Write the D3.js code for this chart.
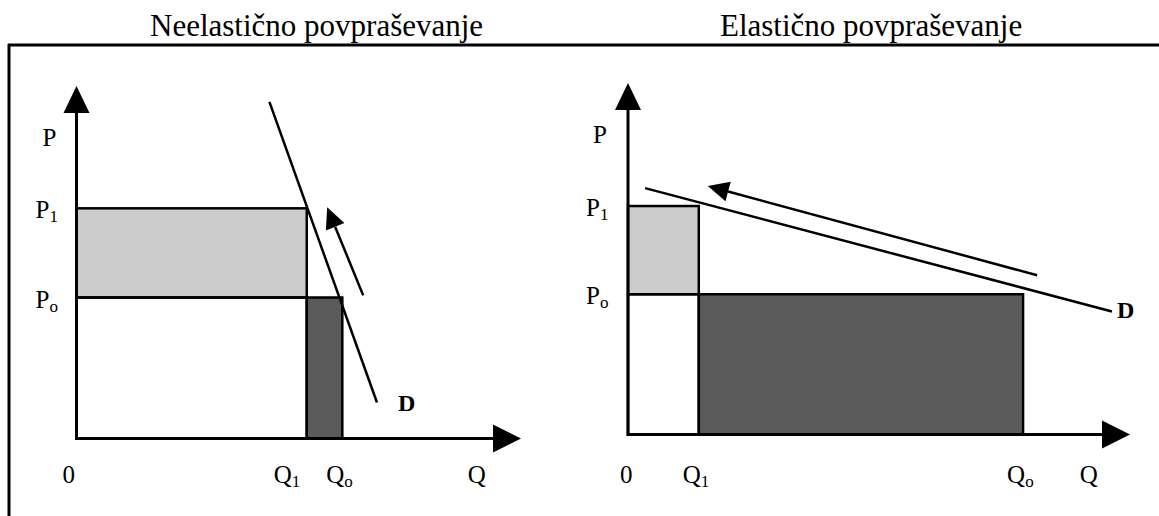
<!DOCTYPE html>
<html>
<head>
<meta charset="utf-8">
<script src="https://cdn.jsdelivr.net/npm/d3@7"></script>
<style>
  body { margin: 0; background: #fff; }
  text { font-family: "Liberation Serif", "Times New Roman", serif; fill: #000; }
</style>
</head>
<body>
<div id="chart"></div>
<script>
// data, in axis units (0..100 on both axes of each panel)
const panelTitles = ["Neelastično povpraševanje", "Elastično povpraševanje"];
const q1Values = [51.8, 14.1];
const q0Values = [59.8, 78.7];
const p1Values = [65.3, 65.0];
const p0Values = [40.0, 39.9];
const demandLines = [
    [[43.4, 95.5], [67.6, 10.2]],
    [[3.4, 70.1], [96.4, 35.0]]
];
const moveArrows = [
    [[64.5, 40.6], [56.4, 65.6]],
    [[81.5, 45.3], [15.9, 70.7]]
];
const priceLabels = [["P", ""], ["P", "1"], ["P", "o"]];
const quantityLabels = [["0", ""], ["Q", "1"], ["Q", "o"], ["Q", ""]];

const width = 1159, height = 516;

const svg = d3.select("#chart")
    .append("svg")
    .attr("width", width)
    .attr("height", height);

// frame: top rule and left rule
svg.append("line")
    .attr("x1", 8).attr("x2", width)
    .attr("y1", 45).attr("y2", 45)
    .attr("stroke", "#000").attr("stroke-width", 3);
svg.append("line")
    .attr("x1", 9).attr("x2", 9)
    .attr("y1", 44).attr("y2", height)
    .attr("stroke", "#000").attr("stroke-width", 3);

// panel geometry
const layouts = [
    { ox: 76.5, oy: 438.5, xTip: 521, yTip: 86, titleX: 150,
      pX: -34, p1X: -41, zeroX: -14, q1X: -33, q0X: -16, qX: 88, dDx: 21, dDy: 8 },
    { ox: 628, oy: 434.5, xTip: 1130, yTip: 83, titleX: 720,
      pX: -35, p1X: -42, zeroX: -8, q1X: -16, q0X: -16, qX: 90, dDx: 5, dDy: 7 }
];

function arrowHead(g, from, tip, len, hw) {
    const dx = tip[0] - from[0], dy = tip[1] - from[1];
    const l = Math.hypot(dx, dy);
    const ux = dx / l, uy = dy / l;
    const bx = tip[0] - ux * len, by = tip[1] - uy * len;
    g.append("path")
        .attr("d", `M${tip[0]},${tip[1]}L${bx - uy * hw},${by + ux * hw}L${bx + uy * hw},${by - ux * hw}Z`)
        .attr("fill", "#000");
    return [bx, by];
}

function subLabel(g, x, y, parts, size) {
    const t = g.append("text")
        .attr("x", x).attr("y", y)
        .attr("font-size", size);
    t.append("tspan").text(parts[0]);
    if (parts[1]) {
        t.append("tspan")
            .attr("font-size", size * 0.68)
            .attr("dy", 4)
            .text(parts[1]);
    }
    return t;
}

layouts.forEach((L, i) => {
    const g = svg.append("g");

    const x = d3.scaleLinear().domain([0, 100]).range([L.ox, L.xTip]);
    const y = d3.scaleLinear().domain([0, 100]).range([L.oy, L.yTip]);

    g.append("text")
        .attr("x", L.titleX)
        .attr("y", 36)
        .attr("font-size", 31)
        .text(panelTitles[i]);

    // areas
    g.append("rect")
        .attr("x", x(0)).attr("y", y(p1Values[i]))
        .attr("width", x(q1Values[i]) - x(0))
        .attr("height", y(p0Values[i]) - y(p1Values[i]))
        .attr("fill", "#cccccc")
        .attr("stroke", "#000").attr("stroke-width", 2.5);
    g.append("rect")
        .attr("x", x(0)).attr("y", y(p0Values[i]))
        .attr("width", x(q1Values[i]) - x(0))
        .attr("height", y(0) - y(p0Values[i]))
        .attr("fill", "none")
        .attr("stroke", "#000").attr("stroke-width", 2.5);
    g.append("rect")
        .attr("x", x(q1Values[i])).attr("y", y(p0Values[i]))
        .attr("width", x(q0Values[i]) - x(q1Values[i]))
        .attr("height", y(0) - y(p0Values[i]))
        .attr("fill", "#5a5a5a")
        .attr("stroke", "#000").attr("stroke-width", 2.5);

    // axes with arrow heads
    const xBase = arrowHead(g, [x(0), y(0)], [x(100), y(0)], 28, 14);
    const yBase = arrowHead(g, [x(0), y(0)], [x(0), y(100)], 27, 13);
    g.append("line")
        .attr("x1", x(0)).attr("y1", y(0))
        .attr("x2", xBase[0] + 1).attr("y2", y(0))
        .attr("stroke", "#000").attr("stroke-width", 3);
    g.append("line")
        .attr("x1", x(0)).attr("y1", y(0) + 1.5)
        .attr("x2", x(0)).attr("y2", yBase[1] - 1)
        .attr("stroke", "#000").attr("stroke-width", 3);

    // demand curve
    const dl = demandLines[i];
    g.append("line")
        .attr("x1", x(dl[0][0])).attr("y1", y(dl[0][1]))
        .attr("x2", x(dl[1][0])).attr("y2", y(dl[1][1]))
        .attr("stroke", "#000").attr("stroke-width", 2.5);
    g.append("text")
        .attr("x", x(dl[1][0]) + L.dDx)
        .attr("y", y(dl[1][1]) + L.dDy)
        .attr("font-size", 24)
        .attr("font-weight", "bold")
        .text("D");

    // movement arrow
    const ma = moveArrows[i];
    const from = [x(ma[0][0]), y(ma[0][1])], tip = [x(ma[1][0]), y(ma[1][1])];
    const base = arrowHead(g, from, tip, 21, 10);
    g.append("line")
        .attr("x1", from[0]).attr("y1", from[1])
        .attr("x2", base[0]).attr("y2", base[1])
        .attr("stroke", "#000").attr("stroke-width", 2.5);

    // price labels
    subLabel(g, x(0) + L.pX, y(83), priceLabels[0], 25);
    subLabel(g, x(0) + L.p1X, y(p1Values[i]) + 10, priceLabels[1], 25);
    subLabel(g, x(0) + L.p1X, y(p0Values[i]) + 10, priceLabels[2], 25);

    // quantity labels
    const qy = 483;
    subLabel(g, x(0) + L.zeroX, qy, quantityLabels[0], 25);
    subLabel(g, x(q1Values[i]) + L.q1X, qy, quantityLabels[1], 25);
    subLabel(g, x(q0Values[i]) + L.q0X, qy, quantityLabels[2], 25);
    subLabel(g, x(L.qX), qy, quantityLabels[3], 25);
});
</script>
</body>
</html>
